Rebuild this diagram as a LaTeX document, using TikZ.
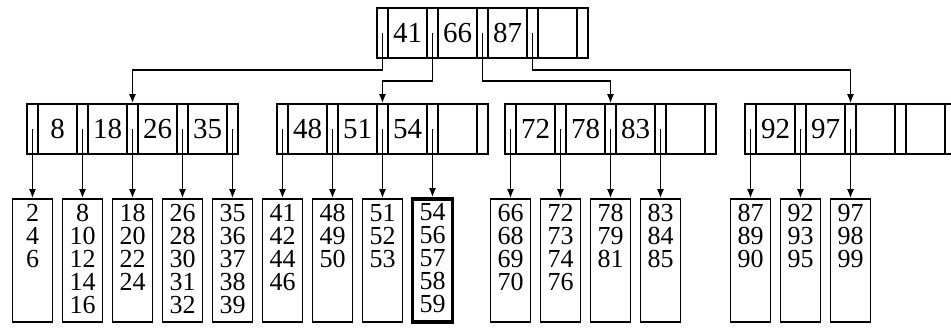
\documentclass[tikz,border=0pt]{standalone}
\usepackage{fontspec}
\setmainfont{Liberation Serif}
\usepackage{tikz}
\usetikzlibrary{positioning}
\usetikzlibrary{arrows.meta}

\begin{document}
\begin{tikzpicture}[x=1pt, y=-1pt, line width=1.6pt,
    ptr/.style={draw, minimum width=11pt, minimum height=50pt, inner sep=0pt},
    key/.style={draw, minimum width=39pt, minimum height=50pt, inner sep=0pt, font=\fontsize{29}{29}\selectfont},
    leaf/.style={draw, minimum width=40pt, minimum height=123pt, inner sep=0pt},
    vals/.style={anchor=north, inner sep=0pt, align=center, font=\fontsize{26}{23}\selectfont},
    arr/.style={-{Latex[length=9pt, width=7pt]}}]

        \useasboundingbox (0,0) rectangle (951,328);
        \clip (0,0) rectangle (951,328);

        % Root
        \foreach \k [count=\i from 0] in {41,66,87,{}} {
            \node[ptr] (r-p\i) at ({382.5+50*\i},33) {};
            \node[key] (r-k\i) at ({407.5+50*\i},33) {\k};
        }
        \node[ptr] (r-p4) at (582.5,33) {};

        % Second level
        \foreach \nm/\x/\ka/\kb/\kc/\kd in {a/27/8/18/26/35, b/277/48/51/54/{}, c/505/72/78/83/{}, d/745/92/97/{}/{}} {
            \foreach \k [count=\i from 0] in {\ka,\kb,\kc,\kd} {
                \node[ptr] (\nm-p\i) at ({\x+5.5+50*\i},129) {};
                \node[key] (\nm-k\i) at ({\x+30.5+50*\i},129) {\k};
            }
            \node[ptr] (\nm-p4) at ({\x+205.5},129) {};
        }

        % Root pointers
        \draw[arr] (r-p0.center) -- (r-p0.center |- 0,70) -| (a-p2.north);
        \draw[arr] (r-p1.center) -- (r-p1.center |- 0,81) -| (b-p2.north);
        \draw[arr] (r-p2.center) -- (r-p2.center |- 0,81) -| (c-p2.north);
        \draw[arr] (r-p3.center) -- (r-p3.center |- 0,70) -| (d-p2.north);

        % Leaves
        \foreach \nm/\i/\vals in {a/0/{2\\4\\6}, a/1/{8\\10\\12\\14\\16}, a/2/{18\\20\\22\\24}, a/3/{26\\28\\30\\31\\32}, a/4/{35\\36\\37\\38\\39},
                b/0/{41\\42\\44\\46}, b/1/{48\\49\\50}, b/2/{51\\52\\53},
                c/0/{66\\68\\69\\70}, c/1/{72\\73\\74\\76}, c/2/{78\\79\\81}, c/3/{83\\84\\85},
                d/0/{87\\89\\90}, d/1/{92\\93\\95}, d/2/{97\\98\\99}} {
            \node[leaf] (\nm\i) at (\nm-p\i.center |- 0,260.5) {};
            \node[vals] (\nm\i-v) at ([yshift=-5pt]\nm\i.north) {\vals};
            \draw[arr] (\nm-p\i.center) -- (\nm\i.north);
        }

        % Leaf that is drawn heavy
        \node[leaf, line width=3.6pt] (b3) at (b-p3.center |- 0,260.5) {};
        \node[vals] (b3-v) at ([yshift=-5pt]b3.north) {54\\56\\57\\58\\59};
        \draw[arr] (b-p3.center) -- (b3.north);

\end{tikzpicture}
\end{document}
